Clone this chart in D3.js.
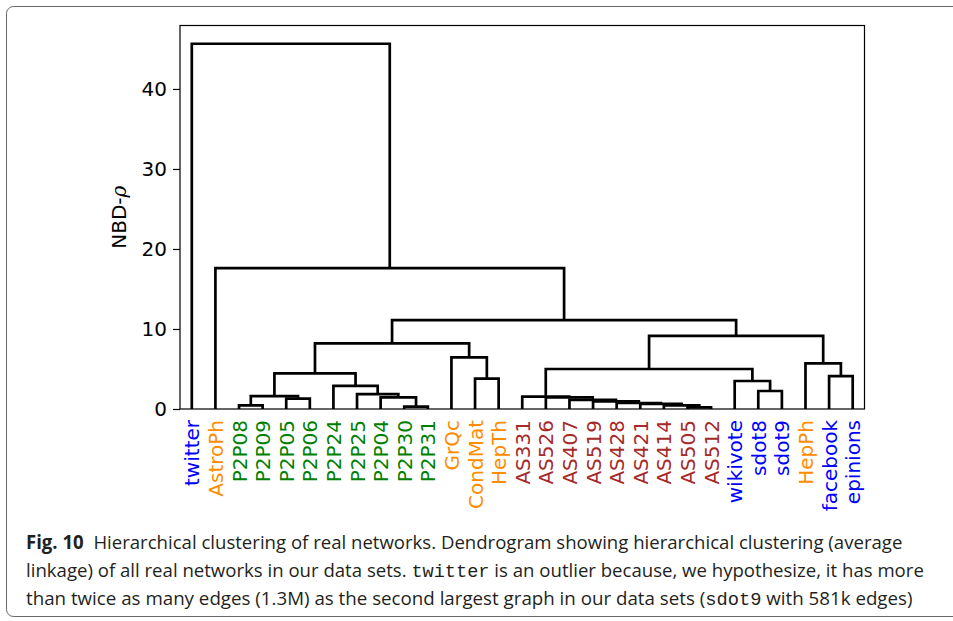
<!DOCTYPE html>
<html><head><meta charset="utf-8">
<script src="https://cdn.jsdelivr.net/npm/d3@7"></script>
<style>body{margin:0;background:#fff}svg{display:block}</style>
</head><body>
<svg id="c" width="953" height="621"></svg>
<script>
const leaves = ["twitter","AstroPh","P2P08","P2P09","P2P05","P2P06","P2P24","P2P25","P2P04","P2P30","P2P31","GrQc","CondMat","HepTh","AS331","AS526","AS407","AS519","AS428","AS421","AS414","AS505","AS512","wikivote","sdot8","sdot9","HepPh","facebook","epinions"];
const leafColors = ["blue","darkorange","green","green","green","green","green","green","green","green","green","darkorange","darkorange","darkorange","brown","brown","brown","brown","brown","brown","brown","brown","brown","blue","blue","blue","darkorange","blue","blue"];
// linkage (scipy style: ids < 29 are leaves in display order, id 29+k is merge k)
const mergeA = [21,20,19,18,17,16,15,14, 9,8,7,6, 2,4,41,43, 12,11,44, 24,23,36, 27,26,50, 47,1,0];
const mergeB = [22,29,30,31,32,33,34,35, 10,37,38,39, 3,5,42,40, 13,45,46, 25,48,49, 28,51,52, 53,54,55];
const mergeHeight = [0.2,0.45,0.65,0.75,0.95,1.15,1.45,1.55, 0.3,1.45,1.85,2.9, 0.45,1.3,1.6,4.45, 3.8,6.45,8.2, 2.25,3.5,5.0, 4.1,5.7,9.15, 11.1,17.6,45.65];
const yTicks = [0,10,20,30,40];
const captionLines = [
  [{t:"Fig. 10",b:1},{t:"\u00a0\u00a0Hierarchical clustering of real networks. Dendrogram showing hierarchical clustering (average"}],
  [{t:"linkage) of all real networks in our data sets.\u00a0"},{t:"twitter",m:1},{t:"\u00a0is an outlier because, we hypothesize, it has more"}],
  [{t:"than twice as many edges (1.3M) as the second largest graph in our data sets ("},{t:"sdot9",m:1},{t:"\u00a0with 581k edges)"}]
];
const captionEnds = [903, 925, 913];

const svg = d3.select("#c");
const n = leaves.length;
const L = 180, R = 864.5, T = 25.5, B = 409;
const x = d3.scaleLinear().domain([0, 10*n]).range([L, R]);
const y = d3.scaleLinear().domain([0, d3.max(mergeHeight)*1.05]).range([B, T]);

// outer frame
svg.append("rect").attr("x",6.5).attr("y",6.5).attr("width",980).attr("height",610)
  .attr("rx",7).attr("fill","none").attr("stroke","#666").attr("stroke-width",1);

// compute node positions
const nodeX = [], nodeH = [];
for (let i=0;i<n;i++){ nodeX[i]=5+10*i; nodeH[i]=0; }
const linkData = [];
const done = new Set();
function comp(k){
  if (done.has(k)) return;
  done.add(k);
  const a = mergeA[k], b = mergeB[k];
  if (a>=n) comp(a-n);
  if (b>=n) comp(b-n);
  nodeX[n+k] = (nodeX[a]+nodeX[b])/2; nodeH[n+k] = mergeHeight[k];
  linkData.push({x1:nodeX[a],h1:nodeH[a],x2:nodeX[b],h2:nodeH[b],h:mergeHeight[k]});
}
mergeA.forEach((a,k)=>comp(k));

svg.append("g").selectAll("path").data(linkData).join("path")
  .attr("d", d => `M${x(d.x1)},${y(d.h1)}V${y(d.h)}H${x(d.x2)}V${y(d.h2)}`)
  .attr("fill","none").attr("stroke","#000").attr("stroke-width",2.7)
  .attr("stroke-linejoin","miter").attr("stroke-linecap","butt");

// axes frame
svg.append("rect").attr("x",L).attr("y",T).attr("width",R-L).attr("height",B-T)
  .attr("fill","none").attr("stroke","#000").attr("stroke-width",1.2);

// y axis
const yAxis = d3.axisLeft(y).tickValues(yTicks).tickSize(7).tickPadding(6).tickFormat(d3.format("d"));
const gy = svg.append("g").attr("transform",`translate(${L},0)`).call(yAxis);
gy.select(".domain").remove();
gy.selectAll(".tick line").attr("stroke","#000").attr("stroke-width",1.2);
gy.selectAll(".tick text").attr("font-family","DejaVu Sans").attr("font-size",20).attr("fill","#000");

// y label
svg.append("text").attr("transform",`translate(126,${(T+B)/2}) rotate(-90)`)
  .attr("text-anchor","middle").attr("font-family","DejaVu Sans").attr("font-size",20)
  .html('NBD-<tspan font-style="italic" font-family="DejaVu Serif">ρ</tspan>');

// x leaf labels
const xAxis = d3.axisBottom(x).tickValues(leaves.map((l,i)=>5+10*i)).tickSize(0).tickFormat((d,i)=>leaves[i]);
const gx = svg.append("g").attr("transform",`translate(0,${B})`).call(xAxis);
gx.select(".domain").remove();
gx.selectAll(".tick text")
  .attr("font-family","DejaVu Sans").attr("font-size",20)
  .attr("fill",(d,i)=>leafColors[i])
  .attr("transform","rotate(-90)")
  .attr("text-anchor","end").attr("x",-11).attr("y",0).attr("dy","0.35em");

// caption: one text per line, scaled horizontally to the reference width
const cap = svg.append("g");
captionLines.forEach((line,li)=>{
  const t = cap.append("text").attr("x",0).attr("y",0)
    .attr("font-family","Open Sans").attr("font-size",19).attr("fill","#231f20");
  line.forEach(s=>{
    const ts = t.append("tspan").text(s.t);
    if (s.b) ts.attr("font-weight","bold");
    if (s.m) ts.attr("font-family","Liberation Mono");
  });
  const w = t.node().getComputedTextLength();
  const sx = (captionEnds[li]-26)/w;
  t.attr("transform",`translate(26,${549+li*28}) scale(${sx},1)`);
});
</script>
</body></html>
